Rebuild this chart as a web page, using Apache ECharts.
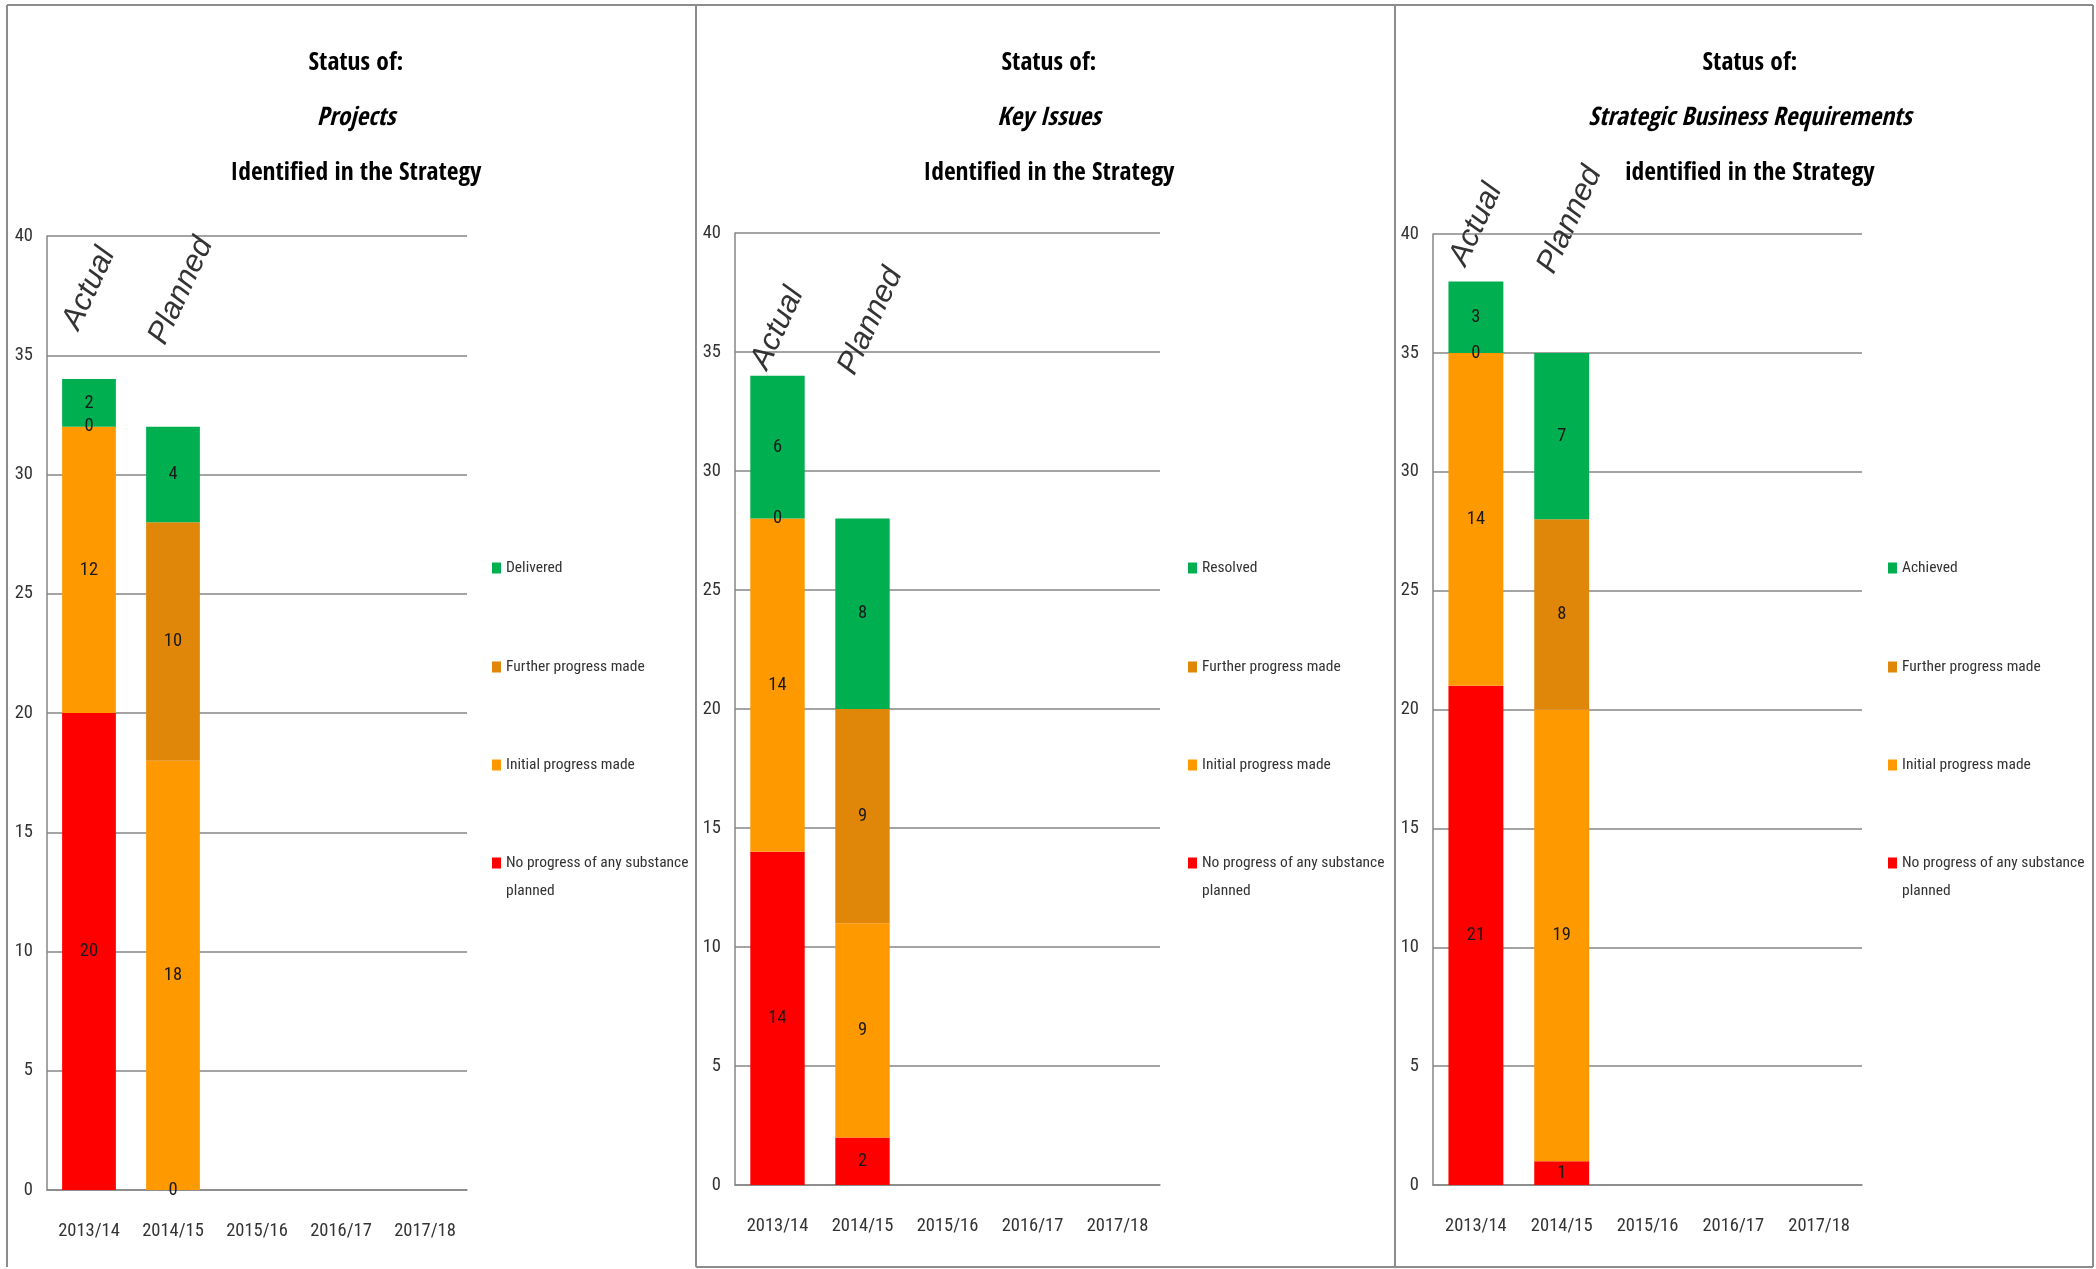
<!DOCTYPE html>
<html>
<head>
<meta charset="utf-8">
<script src="https://cdn.jsdelivr.net/npm/echarts@6/dist/echarts.min.js"></script>
<style>
html,body{margin:0;padding:0;background:#ffffff;}
#chart{width:2096px;height:1269px;}
</style>
</head>
<body>
<div id="chart"></div>
<script>
// ---------- DATA ----------
const categories = ['2013/14', '2014/15', '2015/16', '2016/17', '2017/18'];
const yTicks = { min: 0, max: 40, interval: 5 };

const panelSubjects = ['Projects', 'Key Issues', 'Strategic Business Requirements'];
const panelTitleLast = ['Identified in the Strategy', 'Identified in the Strategy', 'identified in the Strategy'];

const topStatusNames = ['Delivered', 'Resolved', 'Achieved'];
const noProgressName = 'No progress of any substance planned';
const initialName = 'Initial progress made';
const furtherName = 'Further progress made';

// Projects (2013/14 actual, 2014/15 planned)
const projectsNoProgress = [20, 0];
const projectsInitial    = [12, 18];
const projectsFurther    = [0, 10];
const projectsDelivered  = [2, 4];

// Key Issues
const keyIssuesNoProgress = [14, 2];
const keyIssuesInitial    = [14, 9];
const keyIssuesFurther    = [0, 9];
const keyIssuesResolved   = [6, 8];

// Strategic Business Requirements
const sbrNoProgress = [21, 1];
const sbrInitial    = [14, 19];
const sbrFurther    = [0, 8];
const sbrAchieved   = [3, 7];

// Rotated annotations above the bars: label, category, value anchor
const annotationLabels = ['Actual', 'Planned'];
const annotationCategories = ['2013/14', '2014/15'];
const annotationValues = [[37.8, 37.7], [36.0, 36.3], [40.4, 40.6]];

// ---------- FONT PICKING: condensed faces whose proportions best match ----------
const mctx = document.createElement('canvas').getContext('2d');
function measureRaw(font, text) { mctx.font = font; return mctx.measureText(text); }
function hasFont(name) {
  const sample = 'mmmmmmmmmmlli 0123456789 WwAaQq';
  return ['monospace', 'serif'].some(base =>
    measureRaw('40px ' + base, sample).width !== measureRaw("40px '" + name + "', " + base, sample).width);
}
function hasRegularAndBold(name) {
  const s = 'Further progress made 2013/14';
  const wn = measureRaw("normal 100px '" + name + "'", s).width;
  const wb = measureRaw("bold 100px '" + name + "'", s).width;
  return Math.abs(wb - wn) / wn > 0.01;
}
const candidates = ['Liberation Sans Narrow', 'Noto Sans ExtraCondensed', 'Noto Sans Condensed',
  'Noto Sans SemiCondensed', 'Roboto Condensed', 'Open Sans Condensed', 'DejaVu Sans Condensed',
  'Liberation Sans', 'Roboto', 'Open Sans', 'Noto Sans', 'Lato', 'Inter'];
const available = candidates.filter(hasFont);
const roles = {
  title:  { text: 'Identified in the Strategy',   cap: 'I', weight: 'bold',   w: 213, h: 22,   wExp: 0.5 },
  legend: { text: 'No progress of any substance', cap: 'N', weight: 'normal', w: 176, h: 15,   wExp: 0.85 },
  axis:   { text: '2013/14',                      cap: '0', weight: 'normal', w: 51,  h: 15.5, wExp: 0.45 }
};
function roleSizes(fam, r) {
  const f = r.weight + " 100px '" + fam + "'";
  const wu = measureRaw(f, r.text).width / 100;
  const hu = measureRaw(f, r.cap).actualBoundingBoxAscent / 100;
  return { sw: r.w / wu, sh: r.h / hu };
}
function pickRole(k) {
  const r = roles[k];
  let best = null, bestErr = Infinity;
  available.forEach(fam => {
    if (r.weight === 'normal' && !hasRegularAndBold(fam)) return;
    const s = roleSizes(fam, r);
    const e = Math.abs(Math.log(s.sw / s.sh));
    if (e < bestErr) { bestErr = e; best = fam; }
  });
  if (!best) return { family: 'sans-serif', size: 16 };
  const s = roleSizes(best, r);
  const size = Math.pow(s.sw, r.wExp) * Math.pow(s.sh, 1 - r.wExp);
  return { family: "'" + best + "', sans-serif", size: Math.round(size * 2) / 2 };
}
const titleFont = pickRole('title');
const legendFont = pickRole('legend');
const axisFont = pickRole('axis');

// ---------- STYLE / LAYOUT ----------
const colors = {
  noProgress: '#FF0000',
  initial: '#FF9900',
  further: '#E0870A',
  top: '#00B050'
};
const grids = [
  { left: 47,   top: 236, width: 420, height: 954 },
  { left: 735,  top: 233, width: 425, height: 952 },
  { left: 1433, top: 234, width: 429, height: 951 }
];
const titleCenters = [351, 1044, 1745];
const legendLefts = [492, 1188, 1888];
const legendCenters = [568, 667, 765, 863];

const panelData = [
  [projectsNoProgress, projectsInitial, projectsFurther, projectsDelivered],
  [keyIssuesNoProgress, keyIssuesInitial, keyIssuesFurther, keyIssuesResolved],
  [sbrNoProgress, sbrInitial, sbrFurther, sbrAchieved]
];

const chart = echarts.init(document.getElementById('chart'), null, { renderer: 'canvas' });

const option = {
  animation: false,
  backgroundColor: '#ffffff',
  title: [],
  grid: [],
  xAxis: [],
  yAxis: [],
  legend: [],
  series: []
};

panelSubjects.forEach((subject, p) => {
  option.title.push({
    left: titleCenters[p],
    top: 31,
    textAlign: 'center',
    text: '{a|Status of:}\n{b|' + subject + '}\n{a|' + panelTitleLast[p] + '}',
    textStyle: {
      rich: {
        a: { fontFamily: titleFont.family, fontWeight: 'bold', fontSize: titleFont.size, lineHeight: 55, color: '#000000', align: 'center' },
        b: { fontFamily: titleFont.family, fontWeight: 'bold', fontStyle: 'italic', fontSize: titleFont.size, lineHeight: 55, color: '#000000', align: 'center' }
      }
    }
  });

  option.grid.push(Object.assign({ containLabel: false, outerBoundsMode: 'none' }, grids[p]));

  option.xAxis.push({
    type: 'category',
    gridIndex: p,
    data: categories,
    axisLine: { show: true, lineStyle: { color: '#868686', width: 1.5 } },
    axisTick: { show: false },
    axisLabel: { color: '#333333', fontFamily: axisFont.family, fontSize: axisFont.size, margin: 32 },
    splitLine: { show: false }
  });

  option.yAxis.push({
    type: 'value',
    gridIndex: p,
    min: yTicks.min,
    max: yTicks.max,
    interval: yTicks.interval,
    axisLine: { show: true, lineStyle: { color: '#868686', width: 1.5 } },
    axisTick: { show: false },
    axisLabel: { color: '#333333', fontFamily: axisFont.family, fontSize: axisFont.size, margin: 14 },
    splitLine: { show: true, lineStyle: { color: '#868686', width: 1.5 } }
  });

  const names = [noProgressName, initialName, furtherName, topStatusNames[p]];
  const cols = [colors.noProgress, colors.initial, colors.further, colors.top];
  names.forEach((name, s) => {
    option.series.push({
      type: 'bar',
      name: name,
      stack: 'panel' + p,
      xAxisIndex: p,
      yAxisIndex: p,
      barWidth: '64%',
      data: panelData[p][s],
      itemStyle: { color: cols[s] },
      label: {
        show: true,
        position: 'inside',
        formatter: '{c}',
        color: '#1a1a1a',
        fontFamily: axisFont.family,
        fontSize: axisFont.size,
        textBorderWidth: 0
      },
      emphasis: { disabled: true }
    });
  });

  // legend: one component per entry, top to bottom
  const legendOrder = [topStatusNames[p], furtherName, initialName, noProgressName];
  legendOrder.forEach((name, k) => {
    const isTwoLine = name === noProgressName;
    option.legend.push({
      data: [name],
      orient: 'vertical',
      left: legendLefts[p],
      top: isTwoLine ? legendCenters[k] - 42 : legendCenters[k] - 14,
      padding: 0,
      icon: 'rect',
      itemWidth: 9,
      itemHeight: 11,
      selectedMode: false,
      formatter: function (n) {
        return n === noProgressName ? '\nNo progress of any substance\nplanned' : n;
      },
      textStyle: { fontFamily: legendFont.family, fontSize: legendFont.size, color: '#333333', lineHeight: 28 }
    });
  });
});

chart.setOption(option);

// ---------- annotations & frame ----------
const graphics = [];
panelSubjects.forEach((subject, p) => {
  annotationLabels.forEach((lab, j) => {
    const pt = chart.convertToPixel({ gridIndex: p }, [annotationCategories[j], annotationValues[p][j]]);
    graphics.push({
      type: 'text',
      x: pt[0] + (j === 1 ? 8 : 0),
      y: pt[1],
      rotation: 65 * Math.PI / 180,
      silent: true,
      style: {
        text: lab,
        fontFamily: "'Liberation Sans','Arial',sans-serif",
        fontStyle: 'italic',
        fontSize: 31,
        fill: '#333333',
        align: 'center',
        verticalAlign: 'middle'
      }
    });
  });
});

const frameColor = '#8c8c8c';
const frameLines = [
  [7, 5, 2093, 5],
  [7, 5, 7, 1267],
  [696, 5, 696, 1267],
  [1395, 5, 1395, 1267],
  [2093, 5, 2093, 1267],
  [696, 1267, 2093, 1267]
];
frameLines.forEach(l => {
  graphics.push({
    type: 'line',
    silent: true,
    shape: { x1: l[0], y1: l[1], x2: l[2], y2: l[3] },
    style: { stroke: frameColor, lineWidth: 2 }
  });
});

chart.setOption({ graphic: graphics });
</script>
</body>
</html>
